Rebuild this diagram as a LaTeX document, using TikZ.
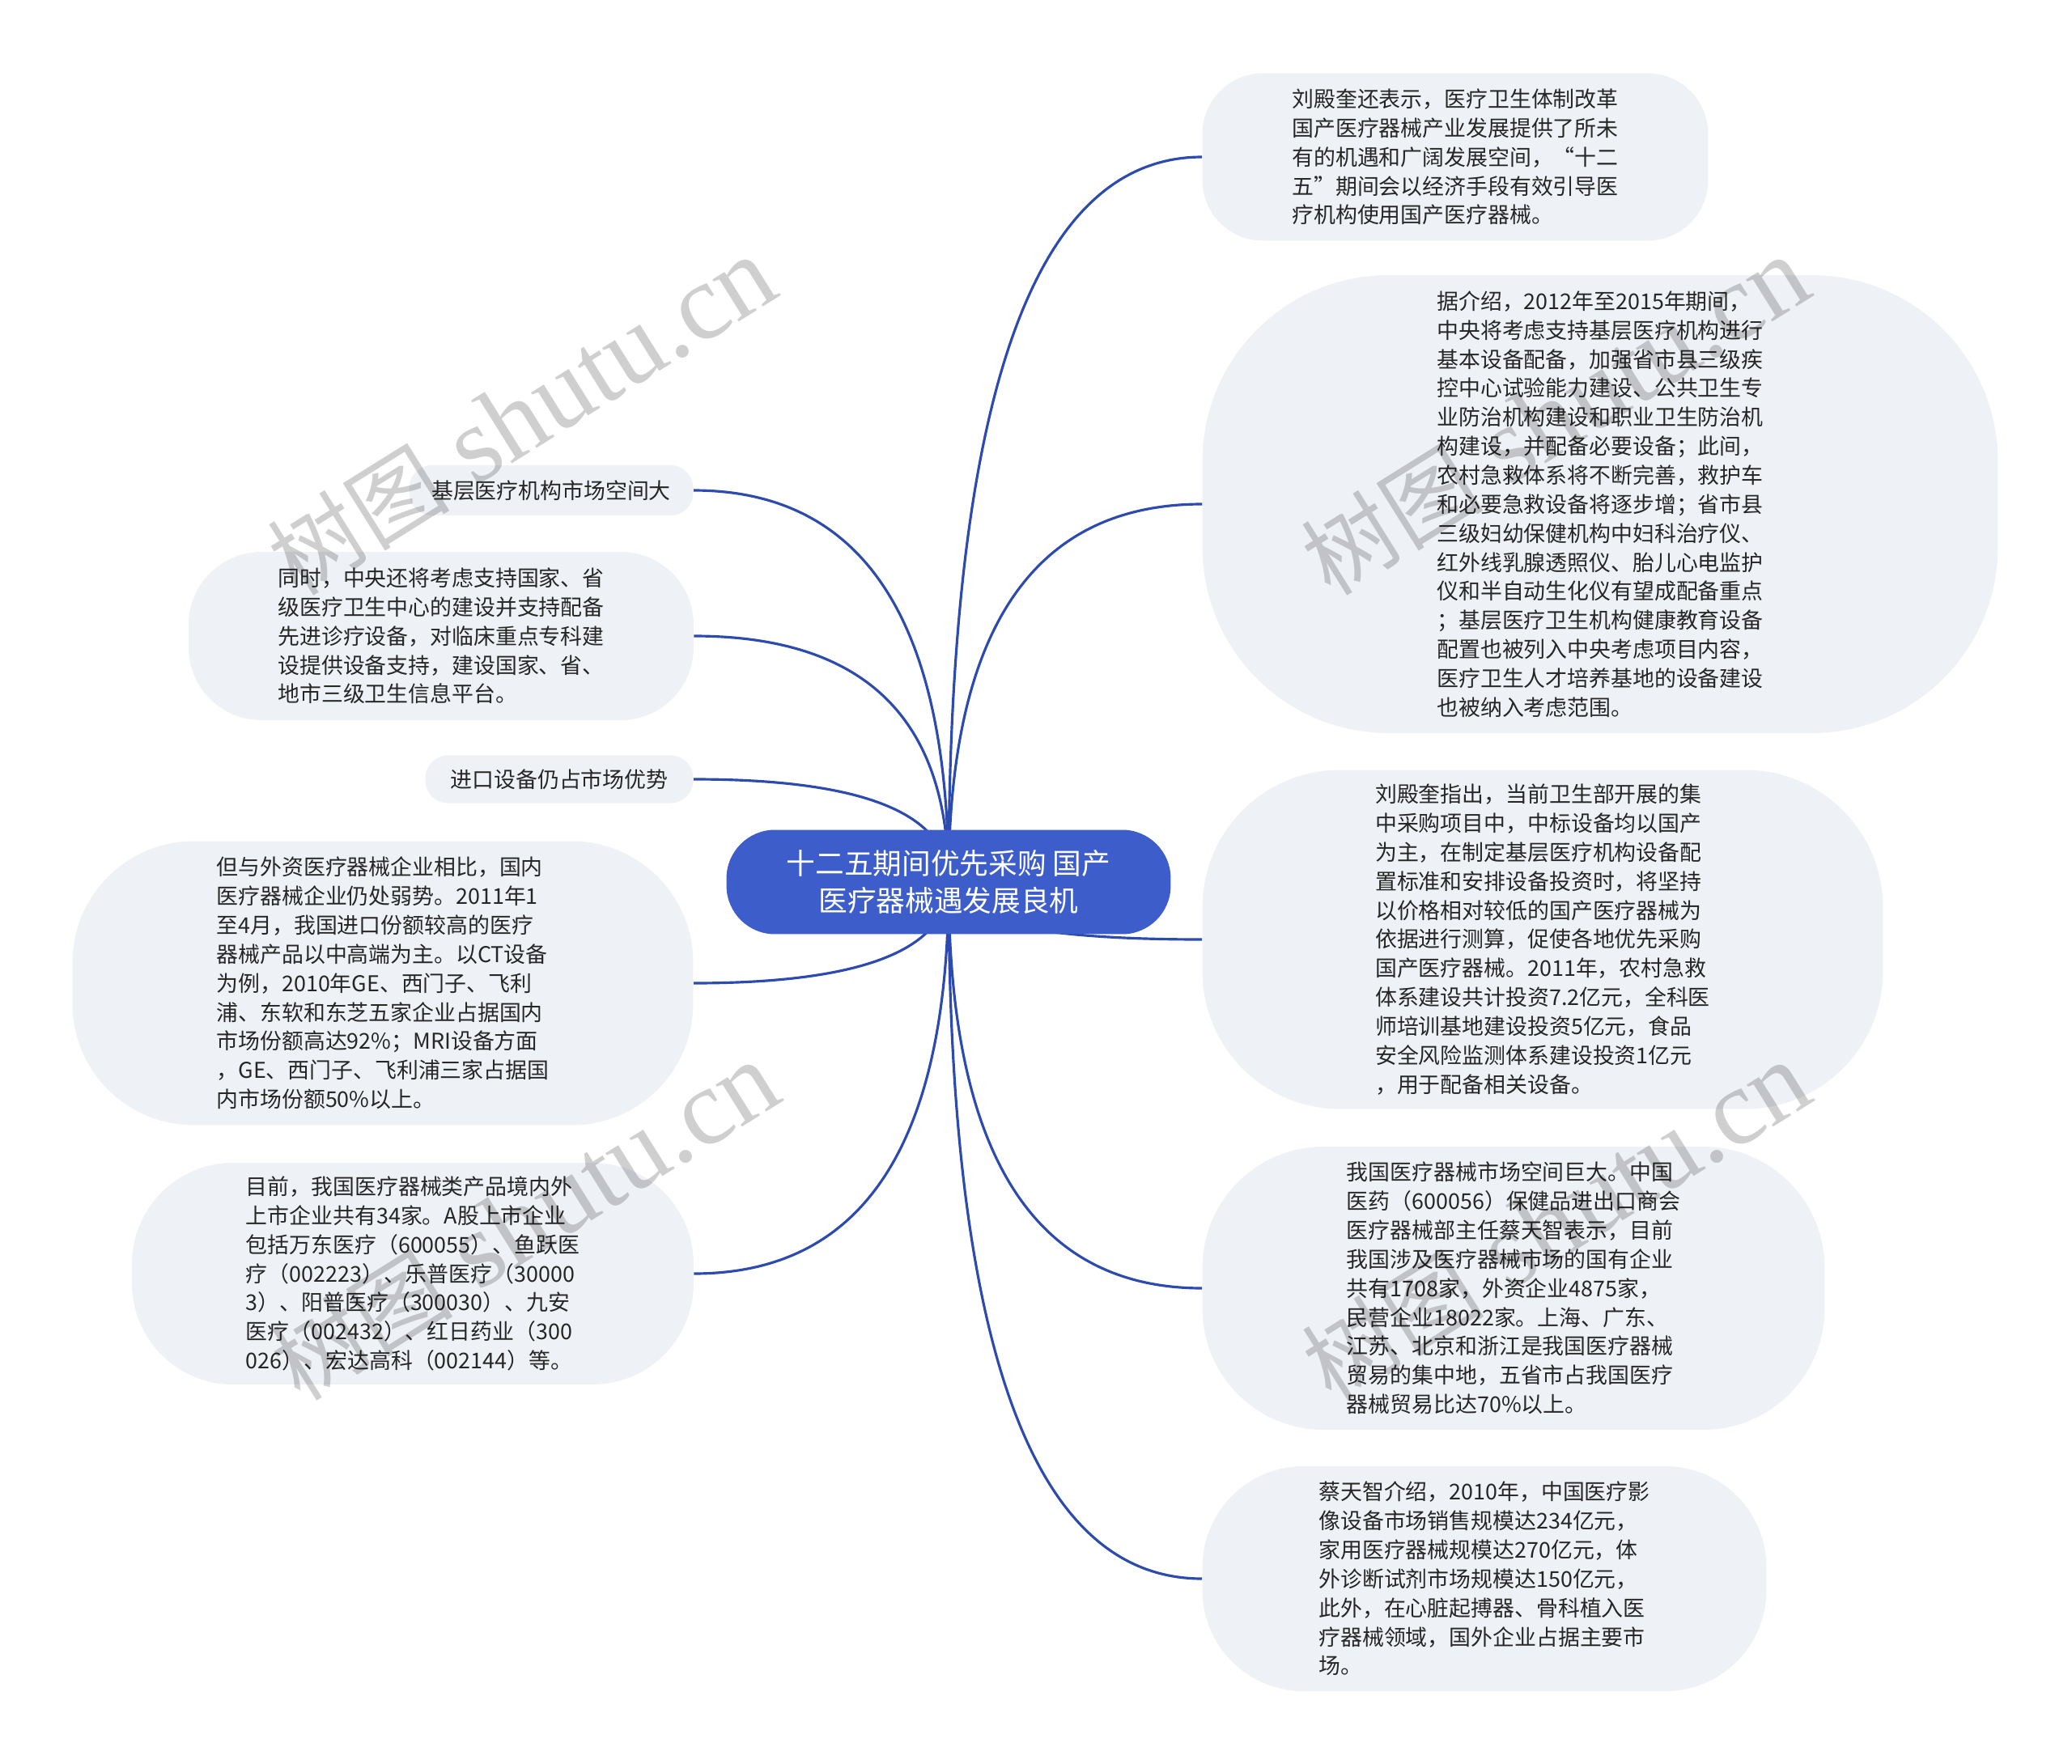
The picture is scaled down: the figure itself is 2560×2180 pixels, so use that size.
\documentclass[tikz,border=0pt]{standalone}
\usepackage{fontspec}
\setmainfont{Noto Sans CJK SC}
\newfontfamily\wmlatin{Liberation Serif}
\usetikzlibrary{backgrounds,calc}
\definecolor{leaffill}{HTML}{EEF1F5}
\definecolor{rootfill}{HTML}{3D5DCB}
\definecolor{linkblue}{HTML}{2D4BAE}
\tikzset{
  leaf/.style={fill=leaffill, align=left, inner sep=0pt, text=black!85, font=\fontsize{15.3}{20.4}\selectfont},
  kroot/.style={fill=rootfill, align=center, inner sep=0pt, text=white, font=\fontsize{20.3}{26.7}\selectfont,
    minimum width=10.98cm, minimum height=2.58cm, rounded corners=1.2cm},
  link/.style={draw=linkblue, line width=1.8pt},
  wmark/.style={rotate=32, text=black, text opacity=0.19, font=\fontsize{64}{76}\selectfont},
}

\begin{document}
\begin{tikzpicture}[x=0.02cm, y=-0.02cm]
    \useasboundingbox (0,0) rectangle (2560,2180);
    \node[kroot] (root) at (1172,1090) {十二五期间优先采购 国产\\医疗器械遇发展良机};
    % right side
    \node[leaf, minimum width=12.5cm, minimum height=4.14cm, rounded corners=1.5cm] (r1) at (1798,194) {刘殿奎还表示，医疗卫生体制改革\\国产医疗器械产业发展提供了所未\\有的机遇和广阔发展空间，“十二\\五”期间会以经济手段有效引导医\\疗机构使用国产医疗器械。};
    \node[leaf, minimum width=19.66cm, minimum height=11.32cm, rounded corners=4.6cm] (r2) at (1977,623) {据介绍，2012年至2015年期间，\\中央将考虑支持基层医疗机构进行\\基本设备配备，加强省市县三级疾\\控中心试验能力建设、公共卫生专\\业防治机构建设和职业卫生防治机\\构建设，并配备必要设备；此间，\\农村急救体系将不断完善，救护车\\和必要急救设备将逐步增；省市县\\三级妇幼保健机构中妇科治疗仪、\\红外线乳腺透照仪、胎儿心电监护\\仪和半自动生化仪有望成配备重点\\；基层医疗卫生机构健康教育设备\\配置也被列入中央考虑项目内容，\\医疗卫生人才培养基地的设备建设\\也被纳入考虑范围。};
    \node[leaf, minimum width=16.82cm, minimum height=8.38cm, rounded corners=3.4cm] (r3) at (1906,1161) {刘殿奎指出，当前卫生部开展的集\\中采购项目中，中标设备均以国产\\为主，在制定基层医疗机构设备配\\置标准和安排设备投资时，将坚持\\以价格相对较低的国产医疗器械为\\依据进行测算，促使各地优先采购\\国产医疗器械。2011年，农村急救\\体系建设共计投资7.2亿元，全科医\\师培训基地建设投资5亿元，食品\\安全风险监测体系建设投资1亿元\\，用于配备相关设备。};
    \node[leaf, minimum width=15.38cm, minimum height=7.0cm, rounded corners=3cm] (r4) at (1870,1592) {我国医疗器械市场空间巨大。中国\\医药（600056）保健品进出口商会\\医疗器械部主任蔡天智表示，目前\\我国涉及医疗器械市场的国有企业\\共有1708家，外资企业4875家，\\民营企业18022家。上海、广东、\\江苏、北京和浙江是我国医疗器械\\贸易的集中地，五省市占我国医疗\\器械贸易比达70\%以上。};
    \node[leaf, minimum width=13.94cm, minimum height=5.56cm, rounded corners=2.5cm] (r5) at (1834,1951) {蔡天智介绍，2010年，中国医疗影\\像设备市场销售规模达234亿元，\\家用医疗器械规模达270亿元，体\\外诊断试剂市场规模达150亿元，\\此外，在心脏起搏器、骨科植入医\\疗器械领域，国外企业占据主要市\\场。};
    % left side
    \node[leaf, minimum width=7.02cm, minimum height=1.24cm, rounded corners=0.56cm] (l1) at (681,606) {基层医疗机构市场空间大};
    \node[leaf, minimum width=12.48cm, minimum height=4.16cm, rounded corners=1.8cm] (l2) at (545,786) {同时，中央还将考虑支持国家、省\\级医疗卫生中心的建设并支持配备\\先进诊疗设备，对临床重点专科建\\设提供设备支持，建设国家、省、\\地市三级卫生信息平台。};
    \node[leaf, minimum width=6.62cm, minimum height=1.18cm, rounded corners=0.56cm] (l3) at (691,963) {进口设备仍占市场优势};
    \node[leaf, minimum width=15.34cm, minimum height=7.02cm, rounded corners=3cm] (l4) at (473,1215) {但与外资医疗器械企业相比，国内\\医疗器械企业仍处弱势。2011年1\\至4月，我国进口份额较高的医疗\\器械产品以中高端为主。以CT设备\\为例，2010年GE、西门子、飞利\\浦、东软和东芝五家企业占据国内\\市场份额高达92\%；MRI设备方面\\，GE、西门子、飞利浦三家占据国\\内市场份额50\%以上。};
    \node[leaf, minimum width=13.88cm, minimum height=5.48cm, rounded corners=2.5cm] (l5) at (510,1574) {目前，我国医疗器械类产品境内外\\上市企业共有34家。A股上市企业\\包括万东医疗（600055）、鱼跃医\\疗（002223）、乐普医疗（30000\\3）、阳普医疗（300030）、九安\\医疗（002432）、红日药业（300\\026）、宏达高科（002144）等。};
    \begin{scope}[on background layer]
      \fill[white] (0,0) rectangle (2560,2180);
      \foreach \n in {r1,r2,r3,r4,r5}
        \draw[link] (root.center) .. controls ($(root.center)!0.667!(root.center |- \n.west)$)
          and ($(\n.west)!0.667!(root.center |- \n.west)$) .. (\n.west);
      \foreach \n in {l1,l2,l3,l4,l5}
        \draw[link] (root.center) .. controls ($(root.center)!0.667!(root.center |- \n.east)$)
          and ($(\n.east)!0.667!(root.center |- \n.east)$) .. (\n.east);
    \end{scope}
    % watermarks
    \node[wmark] (wm1) at (645,515) {树图{\wmlatin\fontsize{76}{86}\selectfont\ shutu.cn}};
    \node[wmark] (wm2) at (1922,515) {树图{\wmlatin\fontsize{76}{86}\selectfont\ shutu.cn}};
    \node[wmark] (wm3) at (649,1510) {树图{\wmlatin\fontsize{76}{86}\selectfont\ shutu.cn}};
    \node[wmark] (wm4) at (1923,1510) {树图{\wmlatin\fontsize{76}{86}\selectfont\ shutu.cn}};
  \end{tikzpicture}
\end{document}
